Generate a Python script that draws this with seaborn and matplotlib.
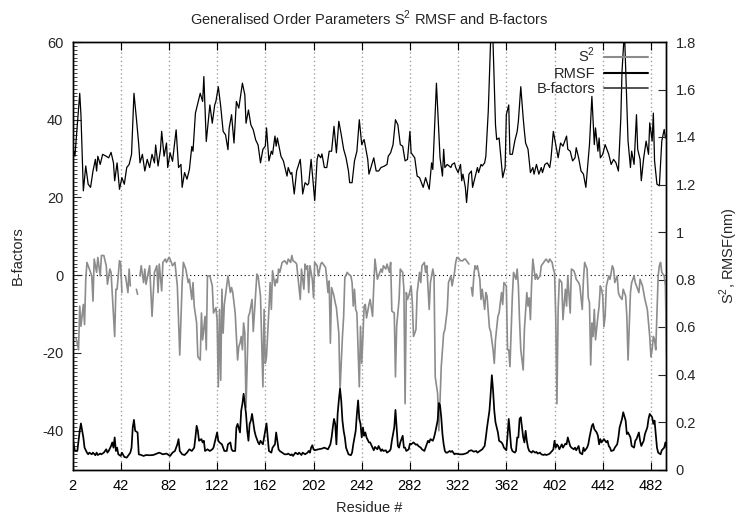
import numpy as np
import pandas as pd
import seaborn as sns
import matplotlib
matplotlib.use("Agg")
import matplotlib.pyplot as plt
from matplotlib.lines import Line2D
from matplotlib.ticker import MultipleLocator, FixedLocator

sns.set_style("ticks")
plt.rcParams["font.family"] = ["Liberation Sans", "DejaVu Sans"]
plt.rcParams["mathtext.fontset"] = "custom"
plt.rcParams["mathtext.rm"] = "Liberation Sans"

nan = float("nan")

title = "Generalised Order Parameters S$^2$ RMSF and B-factors"
x_label = "Residue #"
left_label = "B-factors"
right_label = "S$^2$, RMSF(nm)"
series_names = ["S$^2$", "RMSF", "B-factors"]

x_ticks = [2, 42, 82, 122, 162, 202, 242, 282, 322, 362, 402, 442, 482]
left_ticks = [-40, -20, 0, 20, 40, 60]
right_ticks = [0, 0.2, 0.4, 0.6, 0.8, 1, 1.2, 1.4, 1.6, 1.8]

# B-factors (left axis): (residue, value)
bfactor_points = [
    (2, 33.2), (4, 30.6), (8, 46.8), (9, 41.3), (11, 21.7), (13, 28.1), (15, 23.4), (17, 22.6),
    (19, 26.8), (21, 29.8), (22, 26.8), (23, 30.6), (25, 28.5), (27, 31.1), (30, 30.6), (32, 30.2),
    (34, 31.6), (36, 28.9), (37, 24.3), (39, 28.9), (41, 22.1), (43, 25.1), (45, 23.4), (47, 27.7),
    (49, 28.5), (51, 31.1), (53, 46.8), (55, 40.4), (57, 33.5), (58, 28.9), (60, 31.1), (62, 26.8),
    (64, 29.8), (66, 27.7), (68, 31.1), (70, 28.9), (71, 33.5), (73, 28.1), (75, 32.3), (76, 37.0),
    (78, 30.6), (80, 34.0), (81, 27.7), (83, 31.5), (85, 29.3), (88, 37.4), (90, 27.7), (92, 28.5),
    (93, 22.6), (95, 26.4), (97, 24.7), (99, 27.2), (101, 33.1), (102, 31.9), (104, 41.7), (106, 44.2),
    (108, 46.8), (110, 44.7), (111, 51.1), (113, 34.4), (116, 43.8), (118, 39.1), (120, 43.8), (121, 44.7),
    (123, 48.5), (125, 43.4), (127, 37.0), (129, 36.1), (131, 32.3), (132, 37.8), (134, 41.3), (136, 34.0),
    (138, 44.7), (140, 43.0), (143, 49.4), (145, 46.4), (146, 39.1), (148, 42.5), (150, 38.7), (152, 37.4),
    (154, 34.8), (156, 33.5), (158, 28.9), (160, 32.4), (162, 33.2), (163, 37.9), (165, 29.4), (167, 31.9),
    (168, 31.1), (170, 35.8), (171, 33.2), (172, 35.3), (175, 30.6), (177, 29.4), (178, 28.1), (180, 25.5),
    (181, 27.7), (183, 26.0), (184, 26.4), (186, 20.9), (188, 26.8), (191, 29.8), (192, 26.0), (193, 20.9),
    (195, 23.8), (197, 23.2), (198, 23.6), (200, 29.8), (203, 19.2), (205, 29.8), (206, 31.1), (208, 30.2),
    (209, 31.2), (211, 27.7), (213, 27.7), (215, 31.9), (217, 31.9), (219, 38.3), (221, 31.5), (223, 39.6),
    (225, 36.2), (227, 32.4), (229, 30.2), (231, 26.8), (232, 23.8), (234, 23.8), (236, 29.4), (238, 31.9),
    (240, 40.0), (242, 33.6), (244, 34.9), (247, 29.8), (248, 26.0), (250, 28.1), (252, 30.2), (254, 26.8),
    (256, 26.8), (258, 27.7), (261, 28.1), (263, 28.5), (264, 30.6), (266, 31.5), (268, 33.6), (270, 40.0),
    (272, 38.7), (274, 33.6), (276, 33.2), (278, 29.4), (280, 29.8), (282, 37.0), (283, 31.5), (286, 30.2),
    (288, 25.5), (290, 25.1), (293, 22.6), (295, 25.1), (298, 22.1), (300, 28.9), (301, 27.2), (304, 49.4),
    (307, 30.2), (309, 25.5), (310, 32.4), (311, 27.7), (313, 28.5), (316, 27.7), (317, 28.5), (319, 28.9),
    (320, 27.7), (322, 26.4), (324, 28.5), (325, 24.3), (326, 26.0), (328, 22.6), (329, 18.7), (331, 26.0),
    (333, 26.8), (334, 22.6), (336, 25.1), (338, 27.7), (339, 26.4), (341, 28.5), (342, 28.1), (344, 28.9),
    (345, 30.6), (347, 42.1), (350, 70.0), (353, 38.7), (354, 34.9), (356, 35.3), (358, 28.5), (359, 25.1),
    (361, 27.7), (362, 41.3), (364, 43.8), (365, 31.1), (367, 31.1), (369, 34.5), (371, 37.0), (372, 39.6),
    (374, 48.5), (376, 40.4), (377, 37.0), (378, 34.0), (380, 32.4), (382, 26.4), (384, 27.7), (385, 26.0),
    (387, 28.5), (389, 26.0), (391, 27.7), (392, 26.4), (394, 28.5), (396, 28.9), (398, 27.7), (399, 29.8),
    (401, 37.0), (403, 33.6), (405, 30.2), (407, 34.0), (409, 33.2), (412, 35.8), (413, 32.4), (415, 31.9),
    (417, 29.4), (419, 30.2), (420, 32.8), (422, 30.2), (424, 26.8), (426, 26.0), (428, 22.6), (430, 29.8),
    (431, 33.6), (433, 46.0), (435, 33.6), (436, 37.9), (438, 31.9), (439, 35.3), (440, 30.2), (442, 31.1),
    (444, 33.6), (446, 31.9), (447, 31.1), (449, 28.5), (451, 29.8), (453, 28.9), (455, 26.8), (457, 40.4),
    (458, 52.4), (460, 63.0), (462, 43.8), (463, 34.5), (465, 27.7), (466, 31.9), (468, 28.5), (470, 41.3),
    (471, 32.4), (473, 29.8), (474, 24.3), (476, 30.2), (478, 34.5), (480, 31.1), (481, 39.2), (483, 34.5),
    (484, 41.7), (485, 29.4), (487, 23.4), (489, 23.0), (490, 28.5), (491, 34.5), (493, 37.5), (494, 35.3),
]

# Generalised order parameter S^2 (right axis); nan = missing residue
s2_points = [
    (5, 0.553), (7, 0.504), (8, 0.688), (9, 0.603), (11, 0.695), (12, 0.610), (13, 0.801), (14, 0.872),
    (16, 0.844), (18, 0.815), (19, 0.709), (20, 0.886), (22, 0.830), (23, 0.893), (25, 0.815), (26, 0.901),
    (28, 0.901), (30, 0.858), (31, 0.780), (33, 0.844), (34, 0.830), (37, 0.560), (38, 0.759), (39, 0.759),
    (41, 0.879), (42, 0.865), (43, 0.745), (44, nan), (46, 0.815), (48, 0.745), (49, 0.844), (50, 0.773),
    (52, nan), (55, 0.759), (56, 0.738), (57, nan), (58, 0.815), (59, 0.858), (61, 0.787), (62, 0.844),
    (63, 0.780), (66, 0.858), (68, 0.645), (70, 0.830), (72, 0.858), (73, 0.745), (74, 0.865), (76, 0.752),
    (77, 0.872), (79, 0.886), (80, 0.872), (82, 0.893), (83, 0.886), (85, 0.858), (87, 0.872), (89, 0.773),
    (91, 0.482), (93, 0.787), (94, 0.872), (96, 0.844), (98, 0.787), (99, 0.801), (101, 0.716), (102, 0.787),
    (103, 0.688), (105, 0.617), (106, 0.475), (108, 0.461), (109, 0.659), (110, 0.546), (112, 0.645), (113, 0.504),
    (114, 0.815), (116, 0.815), (118, 0.773), (119, 0.659), (121, 0.681), (122, 0.631), (123, 0.348), (124, 0.674),
    (125, 0.376), (126, 0.759), (127, 0.574), (128, 0.695), (131, 0.815), (133, 0.745), (134, 0.766), (135, 0.745),
    (137, 0.659), (138, 0.560), (139, 0.461), (140, 0.518), (141, 0.532), (142, 0.560), (143, 0.504), (144, 0.617),
    (145, 0.574), (146, 0.262), (148, 0.645), (149, 0.659), (151, 0.716), (152, 0.581), (155, 0.823), (156, 0.815),
    (158, 0.730), (160, 0.348), (161, 0.674), (162, 0.447), (163, 0.475), (165, 0.674), (166, 0.787), (167, 0.674),
    (168, 0.837), (170, 0.773), (171, 0.801), (172, 0.787), (173, 0.844), (174, 0.830), (176, 0.872), (178, 0.879),
    (180, 0.865), (181, 0.886), (183, 0.872), (184, 0.901), (185, 0.879), (187, 0.872), (188, 0.865), (189, 0.815),
    (191, 0.716), (192, 0.844), (194, 0.759), (195, 0.865), (196, 0.844), (197, 0.858), (198, 0.745), (199, 0.858),
    (201, 0.801), (202, 0.723), (203, 0.872), (205, 0.858), (206, 0.815), (208, 0.865), (209, 0.872), (212, 0.851),
    (213, 0.801), (214, 0.745), (215, 0.794), (216, 0.532), (217, 0.766), (219, 0.730), (220, 0.702), (221, 0.681),
    (223, 0.574), (224, 0.333), (226, 0.560), (227, 0.645), (228, 0.808), (230, 0.830), (231, 0.823), (233, 0.815),
    (234, 0.787), (235, 0.688), (236, 0.759), (237, 0.674), (238, 0.659), (240, 0.348), (241, 0.603), (242, 0.447),
    (243, 0.560), (244, 0.688), (245, 0.695), (246, 0.638), (248, 0.695), (249, 0.716), (251, 0.645), (252, 0.773),
    (253, 0.886), (255, 0.801), (256, 0.815), (258, 0.844), (259, 0.830), (260, 0.858), (262, 0.844), (263, 0.865),
    (265, 0.830), (266, 0.872), (267, 0.667), (269, 0.659), (270, 0.390), (271, 0.603), (273, 0.716), (274, 0.844),
    (276, 0.830), (277, 0.759), (278, 0.277), (279, 0.745), (280, 0.716), (281, 0.730), (283, 0.773), (284, 0.702),
    (285, 0.560), (287, 0.589), (288, 0.745), (290, 0.830), (291, 0.787), (292, 0.858), (294, 0.872), (295, 0.830),
    (296, 0.858), (298, 0.674), (299, 0.787), (301, 0.844), (302, 0.815), (303, 0.390), (305, 0.319), (306, 0.163),
    (307, 0.291), (308, 0.433), (310, 0.574), (311, 0.589), (313, 0.674), (314, 0.787), (316, 0.815), (317, 0.773),
    (319, 0.830), (320, 0.872), (321, 0.893), (323, 0.886), (324, 0.879), (326, 0.879), (327, 0.886), (328, 0.886),
    (330, 0.872), (331, 0.865), (332, nan), (333, 0.766), (334, 0.730), (335, 0.815), (336, 0.858), (337, 0.844),
    (338, 0.858), (340, 0.801), (341, 0.716), (342, 0.759), (344, 0.674), (345, 0.745), (346, 0.730), (348, 0.596),
    (349, 0.581), (351, 0.504), (352, 0.447), (353, 0.546), (355, 0.645), (356, 0.659), (358, 0.745), (359, 0.695),
    (360, 0.787), (362, 0.773), (363, 0.504), (364, 0.504), (365, 0.433), (367, 0.730), (368, 0.830), (370, 0.801),
    (371, 0.844), (372, 0.773), (373, 0.624), (374, 0.504), (376, 0.419), (377, 0.589), (379, 0.745), (380, 0.688),
    (381, 0.723), (382, 0.631), (383, 0.787), (384, 0.886), (386, 0.801), (387, 0.823), (388, 0.801), (390, 0.815),
    (391, 0.858), (393, 0.872), (394, 0.879), (395, 0.886), (397, 0.872), (398, 0.886), (400, 0.872), (401, 0.844),
    (402, 0.830), (403, 0.645), (404, 0.277), (405, 0.674), (406, 0.801), (408, 0.787), (409, 0.631), (411, 0.759),
    (412, 0.688), (413, 0.815), (415, 0.659), (416, 0.844), (418, 0.837), (419, 0.823), (420, 0.801), (422, 0.787),
    (423, 0.773), (425, 0.674), (426, 0.801), (427, 0.872), (429, 0.844), (430, 0.723), (431, 0.702), (432, 0.440),
    (433, 0.617), (434, 0.560), (435, 0.674), (436, 0.546), (438, 0.645), (439, 0.688), (440, 0.773), (441, 0.759),
    (442, 0.730), (443, 0.603), (444, 0.645), (445, 0.773), (447, 0.815), (448, 0.801), (450, 0.858), (451, 0.844),
    (452, 0.787), (454, 0.815), (455, 0.745), (456, 0.730), (458, 0.716), (459, 0.759), (461, 0.730), (462, 0.645),
    (463, 0.461), (465, 0.745), (466, 0.787), (468, 0.815), (469, 0.787), (470, 0.773), (472, 0.745), (473, 0.801),
    (475, 0.773), (476, 0.745), (477, 0.716), (479, 0.674), (481, 0.560), (482, 0.475), (483, 0.504), (484, 0.560),
    (485, 0.546), (486, 0.504), (488, 0.815), (489, 0.858), (490, 0.872), (491, 0.830), (493, 0.815), (494, 0.773),
    (495, 0.475),
]

# RMSF in nm (right axis)
rmsf_points = [
    (2, 0.142), (3, 0.106), (4, 0.078), (6, 0.078), (7, 0.121), (8, 0.163), (9, 0.194), (11, 0.135),
    (12, 0.092), (14, 0.071), (15, 0.064), (16, 0.071), (18, 0.064), (19, 0.071), (21, 0.060), (22, 0.071),
    (23, 0.061), (25, 0.067), (26, 0.064), (28, 0.071), (30, 0.085), (31, 0.071), (32, 0.078), (34, 0.099),
    (35, 0.114), (36, 0.092), (37, 0.135), (38, 0.078), (39, 0.092), (40, 0.064), (42, 0.057), (43, 0.071),
    (45, 0.053), (47, 0.050), (48, 0.057), (50, 0.071), (51, 0.092), (52, 0.177), (53, 0.209), (54, 0.163),
    (56, 0.156), (57, 0.064), (59, 0.061), (61, 0.057), (63, 0.061), (66, 0.060), (69, 0.061), (72, 0.067),
    (74, 0.071), (77, 0.064), (80, 0.067), (83, 0.057), (85, 0.071), (87, 0.078), (89, 0.106), (90, 0.128),
    (91, 0.078), (93, 0.064), (95, 0.061), (97, 0.071), (99, 0.085), (101, 0.078), (103, 0.092), (104, 0.135),
    (105, 0.184), (106, 0.163), (107, 0.121), (109, 0.128), (110, 0.114), (111, 0.121), (112, 0.078), (114, 0.085),
    (116, 0.078), (118, 0.085), (119, 0.092), (121, 0.135), (122, 0.156), (123, 0.121), (124, 0.114), (126, 0.106),
    (127, 0.092), (128, 0.078), (130, 0.078), (131, 0.106), (133, 0.114), (134, 0.085), (135, 0.078), (137, 0.078),
    (138, 0.177), (139, 0.192), (141, 0.156), (142, 0.248), (143, 0.277), (144, 0.319), (145, 0.277), (146, 0.234),
    (147, 0.163), (148, 0.121), (149, 0.192), (150, 0.206), (151, 0.234), (153, 0.163), (154, 0.142), (156, 0.114),
    (157, 0.106), (158, 0.121), (160, 0.106), (161, 0.135), (163, 0.194), (164, 0.135), (165, 0.078), (167, 0.071),
    (168, 0.092), (170, 0.106), (171, 0.156), (172, 0.121), (173, 0.085), (174, 0.078), (176, 0.071), (178, 0.064),
    (180, 0.064), (181, 0.067), (183, 0.060), (184, 0.064), (185, 0.057), (187, 0.071), (189, 0.064), (190, 0.071),
    (192, 0.061), (193, 0.071), (195, 0.064), (197, 0.071), (198, 0.078), (199, 0.071), (200, 0.092), (201, 0.102),
    (202, 0.085), (203, 0.081), (206, 0.085), (209, 0.088), (211, 0.092), (214, 0.085), (216, 0.106), (217, 0.135),
    (218, 0.177), (219, 0.213), (220, 0.192), (221, 0.106), (222, 0.234), (223, 0.291), (224, 0.340), (225, 0.291),
    (226, 0.206), (227, 0.163), (228, 0.135), (229, 0.092), (230, 0.078), (231, 0.064), (233, 0.060), (234, 0.071),
    (235, 0.106), (237, 0.163), (238, 0.234), (239, 0.291), (240, 0.213), (241, 0.192), (242, 0.135), (243, 0.177),
    (244, 0.142), (245, 0.156), (246, 0.135), (248, 0.114), (249, 0.114), (251, 0.092), (252, 0.081), (253, 0.095),
    (255, 0.085), (256, 0.099), (258, 0.078), (259, 0.085), (260, 0.078), (262, 0.081), (263, 0.071), (265, 0.078),
    (266, 0.085), (267, 0.121), (269, 0.177), (270, 0.251), (271, 0.177), (272, 0.099), (273, 0.092), (274, 0.114),
    (276, 0.142), (277, 0.092), (278, 0.092), (279, 0.078), (281, 0.085), (282, 0.109), (283, 0.106), (285, 0.114),
    (287, 0.104), (288, 0.106), (289, 0.099), (291, 0.092), (292, 0.085), (294, 0.078), (295, 0.092), (296, 0.106),
    (297, 0.121), (298, 0.114), (299, 0.128), (301, 0.121), (302, 0.135), (303, 0.156), (305, 0.206), (306, 0.280),
    (307, 0.270), (308, 0.220), (309, 0.149), (310, 0.106), (311, 0.078), (312, 0.071), (313, 0.071), (315, 0.078),
    (316, 0.074), (317, 0.078), (319, 0.064), (320, 0.067), (323, 0.064), (326, 0.064), (328, 0.067), (330, 0.071),
    (331, 0.078), (333, 0.081), (334, 0.078), (335, 0.075), (337, 0.078), (338, 0.071), (340, 0.078), (341, 0.081),
    (342, 0.085), (344, 0.099), (345, 0.135), (346, 0.177), (348, 0.248), (349, 0.319), (350, 0.397), (351, 0.333),
    (352, 0.248), (353, 0.199), (355, 0.156), (356, 0.121), (358, 0.114), (359, 0.106), (360, 0.092), (362, 0.081),
    (363, 0.142), (364, 0.213), (365, 0.156), (366, 0.092), (367, 0.078), (369, 0.071), (370, 0.078), (371, 0.135),
    (372, 0.135), (373, 0.213), (374, 0.220), (376, 0.135), (377, 0.114), (378, 0.163), (379, 0.121), (380, 0.092),
    (381, 0.078), (383, 0.071), (384, 0.078), (386, 0.071), (387, 0.074), (388, 0.067), (390, 0.071), (391, 0.064),
    (393, 0.061), (394, 0.064), (395, 0.061), (397, 0.064), (398, 0.067), (400, 0.078), (401, 0.085), (402, 0.121),
    (403, 0.092), (404, 0.106), (405, 0.099), (406, 0.085), (408, 0.106), (409, 0.092), (411, 0.109), (412, 0.106),
    (413, 0.135), (415, 0.099), (416, 0.092), (418, 0.085), (419, 0.092), (420, 0.081), (422, 0.099), (423, 0.071),
    (425, 0.064), (426, 0.092), (427, 0.078), (429, 0.092), (430, 0.106), (431, 0.135), (433, 0.184), (434, 0.192),
    (435, 0.170), (437, 0.156), (438, 0.142), (439, 0.106), (440, 0.128), (441, 0.114), (443, 0.128), (444, 0.121),
    (445, 0.114), (446, 0.121), (447, 0.099), (448, 0.092), (449, 0.078), (451, 0.081), (452, 0.092), (454, 0.106),
    (455, 0.135), (456, 0.177), (458, 0.213), (459, 0.241), (461, 0.206), (462, 0.149), (463, 0.156), (465, 0.135),
    (466, 0.099), (468, 0.092), (469, 0.121), (470, 0.128), (472, 0.156), (473, 0.121), (474, 0.099), (476, 0.121),
    (477, 0.149), (479, 0.177), (480, 0.213), (481, 0.234), (483, 0.220), (484, 0.192), (485, 0.206), (486, 0.149),
    (487, 0.092), (488, 0.071), (490, 0.064), (491, 0.081), (493, 0.092), (494, 0.114), (495, 0.092),
]

s2_color = "#8c8c8c"
black = "#000000"

W, H = 742, 517
fig = plt.figure(figsize=(W / 100, H / 100), dpi=100)
L, R, T, B = 72.5, 666.0, 42.0, 469.5
ax = fig.add_axes([L / W, 1 - B / H, (R - L) / W, (B - T) / H])
ax2 = ax.twinx()
ax.set_facecolor("white")

# grid and zero axis
for xt in x_ticks[1:]:
    ax.axvline(xt, color="#a0a0a0", ls=(0, (1, 2)), lw=1.0, zorder=0)
ax.axhline(0, color="black", ls=(0, (1, 2.5)), lw=0.8, zorder=0)

bf_df = pd.DataFrame(bfactor_points, columns=["res", "val"])
s2_df = pd.DataFrame(s2_points, columns=["res", "val"])
rm_df = pd.DataFrame(rmsf_points, columns=["res", "val"])

sns.lineplot(data=bf_df, x="res", y="val", ax=ax, color=black, lw=0.9,
             estimator=None, sort=False, legend=False)

# S^2 with gaps at missing residues
seg_id = s2_df["val"].isna().cumsum()
for _, seg in s2_df.groupby(seg_id):
    seg = seg.dropna()
    if len(seg) > 1:
        sns.lineplot(data=seg, x="res", y="val", ax=ax2, color=s2_color, lw=1.2,
                     estimator=None, sort=False, legend=False)

sns.lineplot(data=rm_df, x="res", y="val", ax=ax2, color=black, lw=1.25,
             estimator=None, sort=False, legend=False)

ax.set_xlim(2, 494.5)
ax.set_ylim(-50, 60)
ax2.set_ylim(0, 1.8)

fs = 10.5
ax.xaxis.set_major_locator(FixedLocator(x_ticks))
ax.set_xticklabels([str(t) for t in x_ticks], fontsize=fs)
ax.yaxis.set_major_locator(FixedLocator(left_ticks))
ax.set_yticklabels([str(t) for t in left_ticks], fontsize=fs)
ax.yaxis.set_minor_locator(MultipleLocator(1))
ax2.yaxis.set_major_locator(FixedLocator(right_ticks))
ax2.set_yticklabels(["0", "0.2", "0.4", "0.6", "0.8", "1", "1.2", "1.4", "1.6", "1.8"], fontsize=fs)

ax.tick_params(axis="x", direction="in", length=6, width=0.8, top=True, pad=6.5, colors="black")
ax.tick_params(axis="y", which="major", direction="in", length=6, width=0.8, pad=6.5, right=False)
ax.tick_params(axis="y", which="minor", direction="in", length=3, width=0.6, right=False)
ax2.tick_params(axis="y", direction="in", length=6, width=0.8, pad=7)

for a in (ax, ax2):
    for s in a.spines.values():
        s.set_color("black")
        s.set_linewidth(1.0)

ax.set_xlabel(x_label, fontsize=fs)
ax.set_ylabel(left_label, fontsize=fs)
ax2.set_ylabel(right_label, fontsize=fs)
ax.xaxis.label.set_va("center")
ax.xaxis.set_label_coords(0.5, (B - 508) / (B - T))
ax.yaxis.label.set_va("center")
ax.yaxis.set_label_coords((18 - L) / (R - L), 0.5)
ax2.yaxis.label.set_va("center")
ax2.yaxis.set_label_coords((729 - L) / (R - L), 0.5)

fig.text((L + R) / 2 / W, 1 - 18 / H, title, ha="center", va="center", fontsize=fs)

handles = [
    Line2D([], [], color=s2_color, lw=1.5),
    Line2D([], [], color=black, lw=1.5),
    Line2D([], [], color="#333333", lw=1.2),
]
leg = fig.legend(handles, series_names, loc="upper right",
                 bbox_to_anchor=(648 / W, 1 - 46 / H), frameon=False,
                 markerfirst=False, fontsize=fs, handlelength=3.0,
                 handletextpad=0.6, labelspacing=0.1, borderpad=0, borderaxespad=0)

fig.savefig("out.png", dpi=100)
